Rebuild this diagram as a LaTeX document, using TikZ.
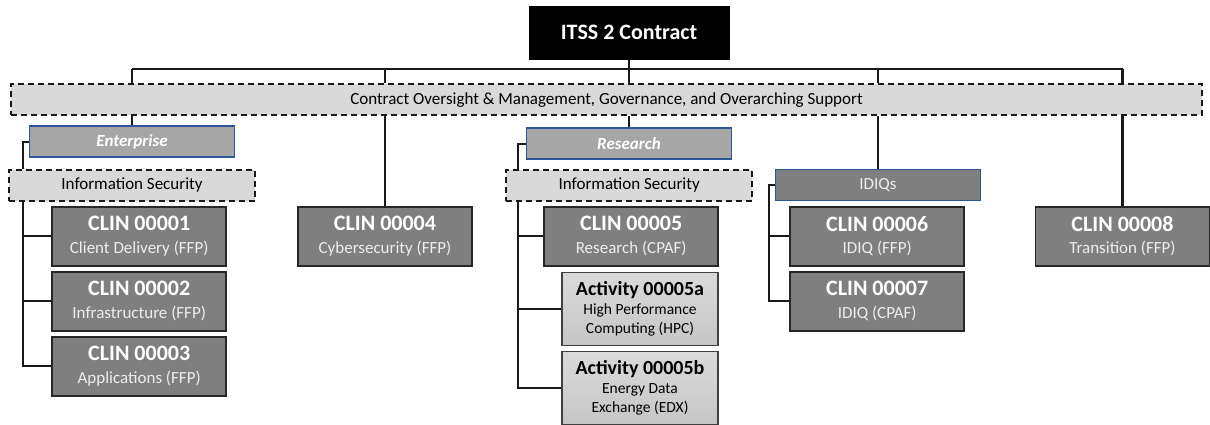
\documentclass[tikz,border=0pt]{standalone}
\usepackage{fontspec}
\setmainfont{Carlito}
\usepackage{tikz}

\definecolor{clingray}{HTML}{7F7F7F}
\definecolor{grpgray}{HTML}{A6A6A6}
\definecolor{grpblue}{HTML}{2F5597}
\definecolor{dashgray}{HTML}{D9D9D9}
\definecolor{actlight}{HTML}{DADADA}
\definecolor{actdark}{HTML}{C6C6C6}
\definecolor{subwhite}{HTML}{EDEDED}

\newcommand{\clintitle}{\fontsize{22}{22.7}\selectfont\bfseries}
\newcommand{\acttitle}{\fontsize{20}{19}\selectfont\bfseries}

\begin{document}
\begin{tikzpicture}[
  x=1pt, y=-1pt,
  conn/.style={line width=2.3pt, black!90},
  topbox/.style={draw=black, fill=black, text=white, minimum width=200pt, minimum height=53pt, inner sep=0pt, font=\fontsize{22}{24}\selectfont\bfseries},
  dashbox/.style={draw=black!90, fill=dashgray, dash pattern=on 6pt off 4pt, line width=2pt, minimum height=31pt, inner sep=0pt, font=\fontsize{17}{20}\selectfont},
  groupbox/.style={draw=grpblue, fill=grpgray, line width=1.5pt, minimum width=205pt, minimum height=31pt, inner sep=0pt, text=white, font=\fontsize{17}{20}\selectfont\bfseries\itshape},
  clinbox/.style={draw=black!85, fill=clingray, line width=1.8pt, minimum width=174pt, minimum height=59pt, inner sep=0pt, align=center, text=subwhite, font=\fontsize{17}{22.7}\selectfont},
  actbox/.style={draw=black!75, top color=actlight, bottom color=actdark, line width=1.3pt, minimum width=156pt, minimum height=73pt, inner sep=0pt, align=center, font=\fontsize{15.5}{19}\selectfont}
]
\useasboundingbox (0,0) rectangle (1210,424);

% Top of the tree
\node[topbox] (itss) at (629, 32.5) {ITSS 2 Contract};
\coordinate (bus) at (0, 69.3);
\node[dashbox, minimum width=1191pt] (cont) at (606.5, 99.9) {Contract Oversight \& Management, Governance, and Overarching Support};

% Second level
\node[groupbox] (ent) at (132, 141.7) {Enterprise};
\node[clinbox] (c4) at (385, 236.2) {{\clintitle\color{white}CLIN 00004}\\Cybersecurity (FFP)};
\node[groupbox] (res) at (629, 143.7) {Research};
\node[groupbox, font=\fontsize{17}{20}\selectfont, fill=clingray, text=subwhite] (idiq) at (877.9, 185) {IDIQs};
\node[clinbox] (c8) at (1122.5, 236.2) {{\clintitle\color{white}CLIN 00008}\\Transition (FFP)};

% Enterprise column
\node[dashbox, minimum width=246pt] (is1) at (132, 185.4) {Information Security};
\node[clinbox] (c1) at (139.2, 236.2) {{\clintitle\color{white}CLIN 00001}\\Client Delivery (FFP)};
\node[clinbox] (c2) at (139.2, 301.2) {{\clintitle\color{white}CLIN 00002}\\Infrastructure (FFP)};
\node[clinbox] (c3) at (139.2, 366.3) {{\clintitle\color{white}CLIN 00003}\\Applications (FFP)};
\coordinate (sp1) at (23.3, 0);

% Research column
\node[dashbox, minimum width=246pt] (is2) at (629.2, 185.4) {Information Security};
\node[clinbox] (c5) at (631.2, 236.2) {{\clintitle\color{white}CLIN 00005}\\Research (CPAF)};
\node[actbox] (a5a) at (640, 309.2) {{\acttitle Activity 00005a}\\High Performance\\Computing (HPC)};
\node[actbox] (a5b) at (640, 388.2) {{\acttitle Activity 00005b}\\Energy Data\\Exchange (EDX)};
\coordinate (sp2) at (518.3, 0);

% IDIQ column
\node[clinbox] (c6) at (877.2, 236.2) {{\clintitle\color{white}CLIN 00006}\\IDIQ (FFP)};
\node[clinbox] (c7) at (877.2, 301.3) {{\clintitle\color{white}CLIN 00007}\\IDIQ (CPAF)};
\coordinate (sp3) at (769, 0);

% Bus and drops
\draw[conn] (itss.south) -- (itss.south |- bus);
\draw[conn] (ent |- bus) -- (c8 |- bus);
\foreach \n in {ent, c4, res, idiq, c8} {
  \draw[conn] (\n |- bus) -- (\n |- cont.north);
  \draw[conn] (\n |- cont.south) -- (\n.north);
}

% Elbows and branches
\draw[conn] (ent.west) -| (sp1 |- is1.north);
\draw[conn] (sp1 |- is1.south) |- (c3.west);
\foreach \n in {c1, c2} \draw[conn] (sp1 |- \n) -- (\n.west);

\draw[conn] (res.west) -| (sp2 |- is2.north);
\draw[conn] (sp2 |- is2.south) |- (a5b.west);
\foreach \n in {c5, a5a} \draw[conn] (sp2 |- \n) -- (\n.west);

\draw[conn] (idiq.west) -| (sp3 |- c7) -- (c7.west);
\draw[conn] (sp3 |- c6) -- (c6.west);

\end{tikzpicture}
\end{document}
